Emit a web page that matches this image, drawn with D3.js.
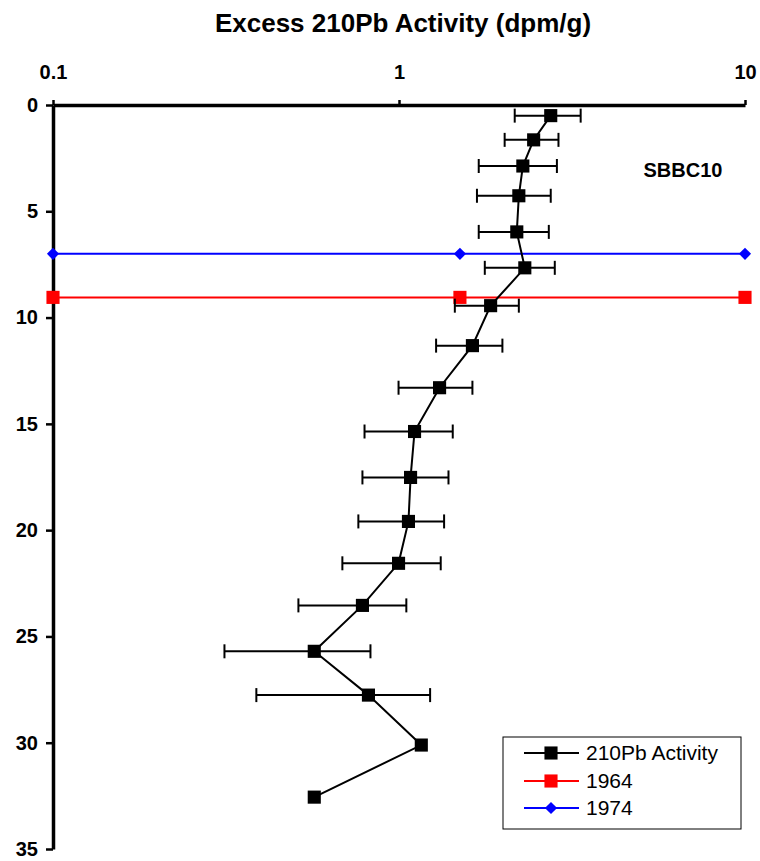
<!DOCTYPE html>
<html>
<head>
<meta charset="utf-8">
<script src="https://cdn.jsdelivr.net/npm/d3@7"></script>
<style>
  body { margin: 0; background: #fff; }
  svg { font-family: "Liberation Sans", Arial, sans-serif; }
</style>
</head>
<body>
<svg id="chart" width="760" height="861"></svg>
<script>
// ---- data ----
const depths   = [0.5, 1.64, 2.87, 4.27, 5.97, 7.66, 9.44, 11.32, 13.30, 15.36, 17.52, 19.59, 21.56, 23.54, 25.70, 27.76, 30.11, 32.56];
const activity = [2.745, 2.45, 2.28, 2.22, 2.19, 2.31, 1.84, 1.63, 1.31, 1.109, 1.08, 1.065, 0.997, 0.784, 0.569, 0.816, 1.16, 0.569];
const errLow   = [2.16, 2.02, 1.70, 1.68, 1.70, 1.77, 1.45, 1.28, 0.997, 0.795, 0.784, 0.763, 0.686, 0.512, 0.313, 0.387, null, null];
const errHigh  = [3.35, 2.89, 2.86, 2.745, 2.71, 2.82, 2.22, 1.99, 1.63, 1.43, 1.39, 1.35, 1.32, 1.05, 0.827, 1.23, null, null];
const line1964X = [0.1, 1.5, 10];
const line1964Depth = 9.05;
const line1974X = [0.1, 1.5, 10];
const line1974Depth = 7.0;
const xTicks = [0.1, 1, 10];
const yTicks = [0, 5, 10, 15, 20, 25, 30, 35];
const legendLabels = ["210Pb Activity", "1964", "1974"];
const titleText = "Excess 210Pb Activity (dpm/g)";
const coreLabel = "SBBC10";

// ---- drawing ----
const svg = d3.select("#chart");
const x = d3.scaleLog().domain([0.1, 10]).range([53, 745]);
const y = d3.scaleLinear().domain([0, 35]).range([105, 849]);

svg.append("text").attr("x", 403).attr("y", 32).attr("text-anchor", "middle")
  .attr("font-size", 26).attr("font-weight", "bold").text(titleText);

// axes
const xAxis = d3.axisTop(x).tickValues(xTicks).tickFormat(d => String(d)).tickSize(5).tickSizeOuter(0).tickPadding(21);
const gx = svg.append("g").attr("transform", `translate(0,${y(0)})`).call(xAxis);
gx.select(".domain").attr("stroke-width", 3.5);
gx.selectAll(".tick line").attr("stroke-width", 2.5);
gx.selectAll(".tick text").attr("font-size", 20).attr("font-weight", "bold").attr("fill", "#000");

const yAxis = d3.axisLeft(y).tickValues(yTicks).tickSize(7).tickSizeOuter(0).tickPadding(8);
const gy = svg.append("g").attr("transform", `translate(${x(0.1)},0)`).call(yAxis);
gy.select(".domain").attr("stroke-width", 3.5);
gy.selectAll(".tick line").attr("stroke-width", 2.5);
gy.selectAll(".tick text").attr("font-size", 20).attr("font-weight", "bold").attr("fill", "#000");

const square = d3.symbol().type(d3.symbolSquare).size(172)();
const diamond = d3.symbol().type(d3.symbolSquare).size(74)();

// reference lines
function refLine(xs, depth, color, isDiamond) {
  svg.append("path")
    .datum(xs)
    .attr("d", d3.line().x(d => x(d)).y(() => y(depth)))
    .attr("stroke", color).attr("stroke-width", 2).attr("fill", "none");
  svg.selectAll(null).data(xs).enter().append("path")
    .attr("transform", d => `translate(${x(d)},${y(depth)})` + (isDiamond ? " rotate(45)" : ""))
    .attr("d", isDiamond ? diamond : square)
    .attr("fill", color);
}
refLine(line1974X, line1974Depth, "#0000ff", true);
refLine(line1964X, line1964Depth, "#ff0000", false);

// error bars
const pts = depths.map((d, i) => ({ d, v: activity[i], lo: errLow[i], hi: errHigh[i] }));
const eb = svg.append("g").attr("stroke", "#000").attr("stroke-width", 2);
pts.filter(p => p.lo != null).forEach(p => {
  eb.append("line").attr("x1", x(p.lo)).attr("x2", x(p.hi)).attr("y1", y(p.d)).attr("y2", y(p.d));
  eb.append("line").attr("x1", x(p.lo)).attr("x2", x(p.lo)).attr("y1", y(p.d) - 7).attr("y2", y(p.d) + 7);
  eb.append("line").attr("x1", x(p.hi)).attr("x2", x(p.hi)).attr("y1", y(p.d) - 7).attr("y2", y(p.d) + 7);
});

// main line
svg.append("path").datum(pts)
  .attr("d", d3.line().x(p => x(p.v)).y(p => y(p.d)))
  .attr("stroke", "#000").attr("stroke-width", 2).attr("fill", "none");
svg.selectAll(null).data(pts).enter().append("path")
  .attr("transform", p => `translate(${x(p.v)},${y(p.d)})`)
  .attr("d", square)
  .attr("fill", "#000");

svg.append("text").attr("x", 683).attr("y", 177).attr("text-anchor", "middle")
  .attr("font-size", 20).attr("font-weight", "bold").text(coreLabel);

// legend
const lg = svg.append("g");
lg.append("rect").attr("x", 503).attr("y", 737).attr("width", 238).attr("height", 92)
  .attr("fill", "#fff").attr("stroke", "#000").attr("stroke-width", 1);
const legColors = ["#000", "#ff0000", "#0000ff"];
const legDiamond = [false, false, true];
const legY = [753, 781, 808];
legendLabels.forEach((lab, i) => {
  lg.append("line").attr("x1", 524).attr("x2", 579).attr("y1", legY[i]).attr("y2", legY[i])
    .attr("stroke", legColors[i]).attr("stroke-width", 2);
  lg.append("path").attr("transform", `translate(551,${legY[i]})` + (legDiamond[i] ? " rotate(45)" : ""))
    .attr("d", legDiamond[i] ? diamond : square)
    .attr("fill", legColors[i]);
  lg.append("text").attr("x", 586).attr("y", legY[i] + 7).attr("font-size", 21).text(lab);
});
</script>
</body>
</html>
